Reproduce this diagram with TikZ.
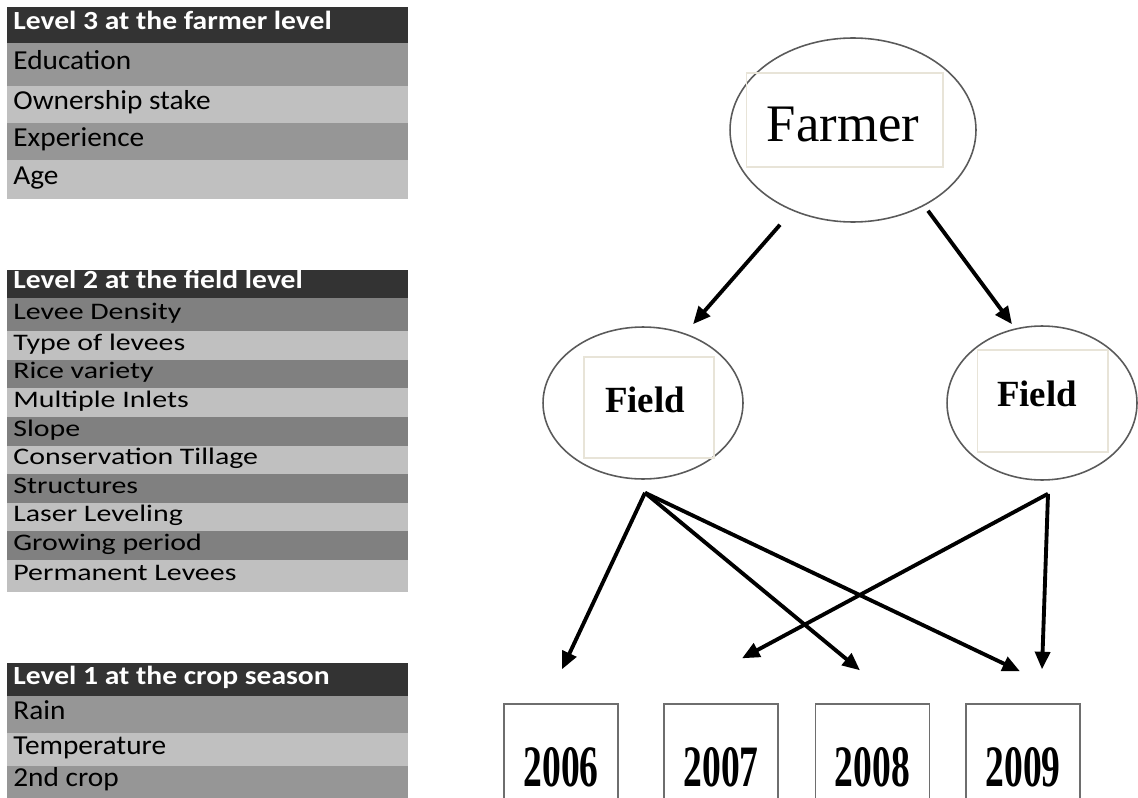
\documentclass[tikz,border=0pt]{standalone}
\usepackage{fontspec}
\setmainfont{Liberation Serif}
\newfontfamily\tablefont[FakeStretch=1.07]{Carlito}
\newfontfamily\widetablefont[FakeStretch=1.26]{Carlito}
\newfontfamily\headfont[FakeStretch=1.13]{Carlito}
\newfontfamily\yearfont[FakeStretch=0.64]{Liberation Serif}
\usepackage{tikz}
\usetikzlibrary{shapes.geometric,arrows.meta}
\usepackage{xcolor}
\definecolor{headgray}{RGB}{51,51,51}
\definecolor{rowdark}{RGB}{150,150,150}
\definecolor{rowdarker}{RGB}{128,128,128}
\definecolor{rowlight}{RGB}{192,192,192}
\definecolor{ovalgray}{RGB}{90,90,90}
\definecolor{boxbeige}{RGB}{232,228,216}
\definecolor{yeargray}{RGB}{110,110,110}

\begin{document}
\begin{tikzpicture}[x=0.02cm, y=-0.02cm,
    oval/.style={ellipse, draw=ovalgray, line width=0.9pt, inner sep=0pt},
    namebox/.style={draw=boxbeige, line width=0.6pt, inner sep=0pt},
    yearbox/.style={draw=yeargray, line width=0.8pt, inner sep=0pt,
        minimum width=2.28cm, minimum height=2.52cm,
        font=\yearfont\bfseries\fontsize{33.4}{36}\selectfont},
    link/.style={line width=2.2pt, -{Triangle[length=10pt,width=8.5pt]}},
    head/.style={anchor=west, inner sep=0pt, text=white, text height=0.72em, text depth=0.2em,
        font=\headfont\bfseries\fontsize{14.9}{16}\selectfont},
    item/.style={anchor=west, inner sep=0pt, text height=0.72em, text depth=0.2em,
        font=\tablefont\fontsize{15.6}{17}\selectfont},
    wideitem/.style={item, font=\widetablefont\fontsize{13.5}{15}\selectfont}]
    \useasboundingbox (0,0) rectangle (1138,797);

    % Level 3 table
    \fill[headgray] (7,7) rectangle (408,43);
    \fill[rowdark] (7,43) rectangle (408,86);
    \fill[rowlight] (7,86) rectangle (408,123);
    \fill[rowdark] (7,123) rectangle (408,160);
    \fill[rowlight] (7,160) rectangle (408,199);
    \node[head] (lvthree) at (13,25) {Level 3 at the farmer level};
    \node[item] (educ) at (13,64.5) {Education};
    \node[item] (owner) at (13,104.5) {Ownership stake};
    \node[item] (exper) at (13,141.5) {Experience};
    \node[item] (age) at (13,179.5) {Age};

    % Level 2 table
    \fill[headgray] (7,270) rectangle (408,298);
    \fill[rowdarker] (7,298) rectangle (408,331);
    \fill[rowlight] (7,331) rectangle (408,360);
    \fill[rowdarker] (7,360) rectangle (408,388);
    \fill[rowlight] (7,388) rectangle (408,417);
    \fill[rowdarker] (7,417) rectangle (408,446);
    \fill[rowlight] (7,446) rectangle (408,474);
    \fill[rowdarker] (7,474) rectangle (408,503);
    \fill[rowlight] (7,503) rectangle (408,531);
    \fill[rowdarker] (7,531) rectangle (408,560);
    \fill[rowlight] (7,560) rectangle (408,592);
    \node[head] (lvtwo) at (13,284) {Level 2 at the field level};
    \node[wideitem] (density) at (13,314.5) {Levee Density};
    \node[wideitem] (levtype) at (13,345.5) {Type of levees};
    \node[wideitem] (variety) at (13,374) {Rice variety};
    \node[wideitem] (inlets) at (13,402.5) {Multiple Inlets};
    \node[wideitem] (slope) at (13,431.5) {Slope};
    \node[wideitem] (tillage) at (13,460) {Conservation Tillage};
    \node[wideitem] (struct) at (13,488.5) {Structures};
    \node[wideitem] (laser) at (13,517) {Laser Leveling};
    \node[wideitem] (growing) at (13,545.5) {Growing period};
    \node[wideitem] (permlev) at (13,576) {Permanent Levees};

    % Level 1 table
    \fill[headgray] (7,663) rectangle (408,696);
    \fill[rowdark] (7,696) rectangle (408,733);
    \fill[rowlight] (7,733) rectangle (408,766);
    \fill[rowdark] (7,766) rectangle (408,800);
    \node[head] (lvone) at (13,679.5) {Level 1 at the crop season};
    \node[item] (rain) at (13,714.5) {Rain};
    \node[item] (temp) at (13,749.5) {Temperature};
    \node[item] (second) at (13,782) {2nd crop};

    % Farmer and fields
    \node[oval, minimum width=4.92cm, minimum height=3.68cm] (farmer) at (853,130) {};
    \node[namebox, minimum width=3.94cm, minimum height=1.88cm] (farmerbox) at (844.5,120) {};
    \node[font=\fontsize{30}{32}\selectfont, inner sep=0pt] (farmertxt) at (843,125) {Farmer};

    \node[oval, minimum width=4.0cm, minimum height=3.04cm] (fieldL) at (643,403) {};
    \node[namebox, minimum width=2.6cm, minimum height=2.02cm] (fieldLbox) at (649,407.5) {};
    \node[font=\bfseries\fontsize{21}{23}\selectfont, inner sep=0pt] (fieldLtxt) at (645,400) {Field};

    \node[oval, minimum width=3.8cm, minimum height=3.08cm] (fieldR) at (1042,403) {};
    \node[namebox, minimum width=2.62cm, minimum height=2.04cm] (fieldRbox) at (1042.5,401) {};
    \node[font=\bfseries\fontsize{21}{23}\selectfont, inner sep=0pt] (fieldRtxt) at (1037,393.5) {Field};

    % Crop seasons
    \node[yearbox] (yrsix) at (561,767) {2006};
    \node[yearbox] (yrseven) at (721,767) {2007};
    \node[yearbox] (yreight) at (872.5,767) {2008};
    \node[yearbox] (yrnine) at (1023,767) {2009};

    % Arrows
    \draw[link] ([shift={(-73,2)}]farmer.south) -- ([shift={(50,-2)}]fieldL.north);
    \draw[link] ([shift={(75,-12)}]farmer.south) -- ([shift={(-30,-1)}]fieldR.north);

    \draw[link] ([shift={(2,13)}]fieldL.south) -- ([shift={(1,-34)}]yrsix.north);
    \draw[link] ([shift={(2,13)}]fieldL.south) -- ([shift={(-12.5,-33)}]yreight.north);
    \draw[link] ([shift={(2,13)}]fieldL.south) -- ([shift={(-3,-32)}]yrnine.north);
    \draw[link] ([shift={(6,13)}]fieldR.south) -- ([shift={(21,-45)}]yrseven.north);
    \draw[link] ([shift={(6,13)}]fieldR.south) -- ([shift={(19,-34)}]yrnine.north);

\end{tikzpicture}
\end{document}
